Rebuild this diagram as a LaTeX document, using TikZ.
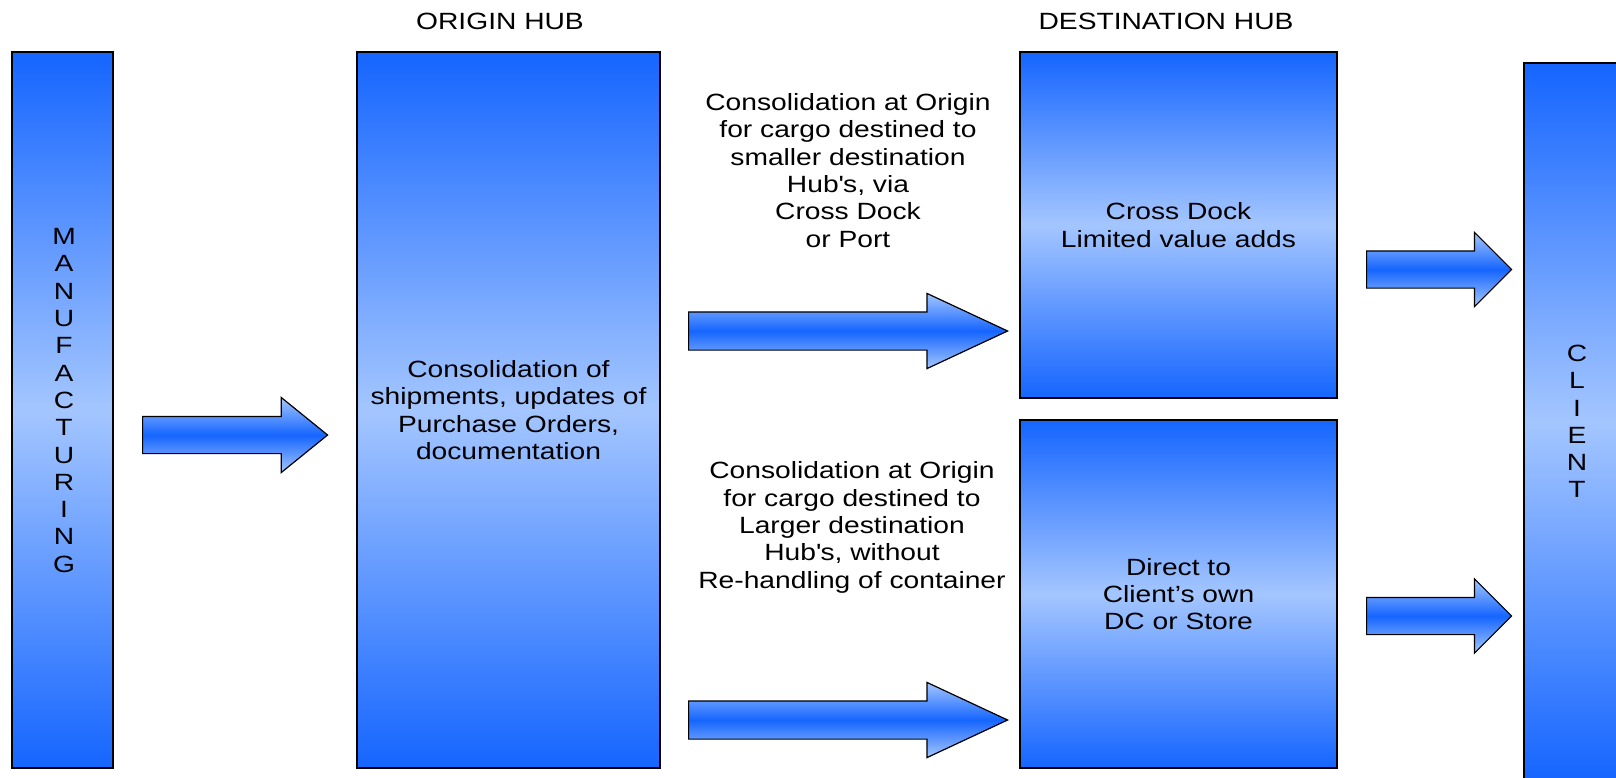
\documentclass[tikz,border=0pt]{standalone}
\usepackage{fontspec}
\setmainfont{Liberation Sans}[FakeStretch=1.2]
\usetikzlibrary{shapes.arrows}
\definecolor{dkb}{RGB}{21,101,255}
\definecolor{ltb}{RGB}{164,198,255}

\begin{document}
\begin{tikzpicture}[x=1pt, y=-1pt, font=\fontsize{23.5}{27.3}\selectfont,
  block/.style={rectangle, draw=black, line width=1.2pt, top color=dkb, bottom color=dkb, middle color=ltb, align=center, inner sep=0pt},
  bigarrow/.style={single arrow, draw=black, line width=1.2pt, top color=ltb, bottom color=ltb, middle color=dkb, inner xsep=0pt, inner ysep=18pt, single arrow head extend=18.5pt, anchor=tail},
  note/.style={align=center, inner sep=0pt}]

    \clip (0,0) rectangle (1616,777);

    \node[block, minimum width=101pt, minimum height=716pt] (mfg) at (62.5,410) {};
    \node[note] (mfgtext) at (64,400.5) {M\\A\\N\\U\\F\\A\\C\\T\\U\\R\\I\\N\\G};
    \node[block, minimum width=303pt, minimum height=716pt] (origin) at (508.5,410) {Consolidation of\\shipments, updates of\\Purchase Orders,\\documentation};
    \node[block, minimum width=317pt, minimum height=346pt] (xdock) at (1178.5,225) {Cross Dock\\Limited value adds};
    \node[block, minimum width=317pt, minimum height=348pt] (direct) at (1178.5,594) {Direct to\\Client’s own\\DC or Store};
    \node[block, minimum width=106pt, minimum height=717pt] (client) at (1577,421.5) {C\\L\\I\\E\\N\\T};

    \node[note] (originhead) at (500,21) {ORIGIN HUB};
    \node[note] (desthead) at (1166,21) {DESTINATION HUB};
    \node[note] (smallnote) at (848,170.5) {Consolidation at Origin\\for cargo destined to\\smaller destination\\Hub\textquotesingle s, via\\Cross Dock\\or Port};
    \node[note] (largenote) at (852,527.5) {Consolidation at Origin\\for cargo destined to\\Larger destination\\Hub\textquotesingle s, without\\Re-handling of container};

    \node[bigarrow, minimum height=185pt, minimum width=74pt, single arrow head extend=19pt, single arrow tip angle=78] (mfgarrow) at (142,435) {};
    \node[bigarrow, minimum height=319pt, minimum width=74pt, inner ysep=18.5pt, single arrow tip angle=50] (xdockarrow) at (688,331) {};
    \node[bigarrow, minimum height=319pt, minimum width=74pt, inner ysep=18.5pt, single arrow tip angle=50] (directarrow) at (688,720) {};
    \node[bigarrow, minimum height=145pt, minimum width=73pt, single arrow tip angle=90] (xdockout) at (1366,269.5) {};
    \node[bigarrow, minimum height=145pt, minimum width=73pt, single arrow tip angle=90] (directout) at (1366,616) {};

  \end{tikzpicture}
\end{document}
